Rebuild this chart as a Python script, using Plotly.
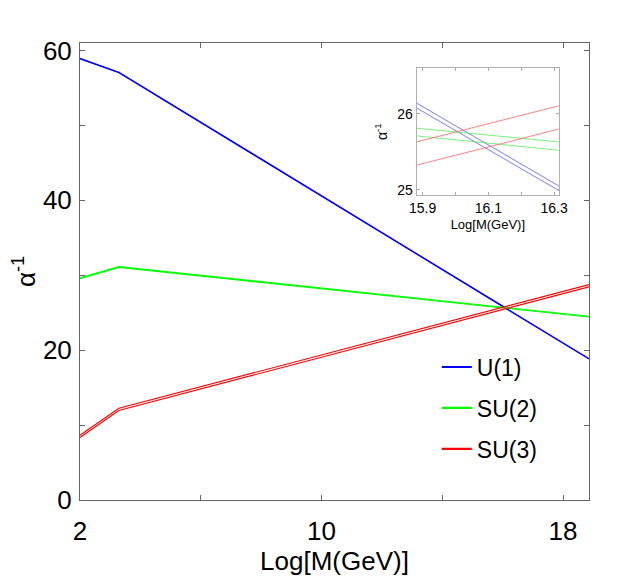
import plotly.graph_objects as go

# main curves: two edges of each band
m_x = [2, 3.29, 18.86]
u1_hi = [58.95, 57.10, 18.87]
u1_lo = [58.88, 57.03, 18.80]
su2_hi = [29.65, 31.15, 24.52]
su2_lo = [29.55, 31.05, 24.42]
su3_hi = [8.65, 12.25, 28.75]
su3_lo = [8.35, 11.95, 28.45]

# inset (zoom on the unification region)
in_x = [15.882, 16.315]
in_u1_hi = [26.14, 25.05]
in_u1_lo = [26.075, 24.99]
in_su2_hi = [25.81, 25.63]
in_su2_lo = [25.71, 25.52]
in_su3_hi = [25.63, 26.105]
in_su3_lo = [25.325, 25.80]

x_ticks = [2, 6, 10, 14, 18]
x_labels = ['2', '', '10', '', '18']
y_ticks = [0, 10, 20, 30, 40, 50, 60]
y_labels = ['0', '', '20', '', '40', '', '60']
in_x_ticks = [15.9, 16.0, 16.1, 16.2, 16.3]
in_x_labels = ['15.9', '', '16.1', '', '16.3']
in_y_ticks = [25, 26]

names = ['U(1)', 'SU(2)', 'SU(3)']
colors = ['#0000ff', '#00ff00', '#ff0000']
light = ['rgba(80,80,255,0.75)', 'rgba(80,235,80,0.75)', 'rgba(255,90,90,0.75)']

fig = go.Figure()

main = [(u1_hi, u1_lo), (su2_hi, su2_lo), (su3_hi, su3_lo)]
for (hi, lo), c in zip(main, colors):
    for y in (hi, lo):
        fig.add_trace(go.Scatter(x=m_x, y=y, mode='lines', line=dict(color=c, width=1.1),
                                 showlegend=False, hoverinfo='skip'))

inset = [(in_u1_hi, in_u1_lo), (in_su2_hi, in_su2_lo), (in_su3_hi, in_su3_lo)]
for (hi, lo), c in zip(inset, light):
    for y in (hi, lo):
        fig.add_trace(go.Scatter(x=in_x, y=y, mode='lines', line=dict(color=c, width=1),
                                 xaxis='x2', yaxis='y2', showlegend=False, hoverinfo='skip'))

# legend entries only
for n, c in zip(names, colors):
    fig.add_trace(go.Scatter(x=[None], y=[None], mode='lines', name=n, legendgroup=n,
                             line=dict(color=c, width=2.2)))

axis_font = dict(family='Arial, Liberation Sans', size=26, color='black')
small_font = dict(family='Arial, Liberation Sans', size=14, color='black')

# the page body adds 8px, so the figure is a little smaller than the window
fig.update_layout(
    width=622, height=568,
    margin=dict(l=72, r=41, t=35, b=76, autoexpand=False),
    paper_bgcolor='white', plot_bgcolor='white',
    font=dict(family='Arial, Liberation Sans', color='black'),
    xaxis=dict(range=[2, 18.86], tickvals=x_ticks, ticktext=x_labels, ticks='inside', ticklen=5,
               tickcolor='#666', showline=True, linecolor='#666', linewidth=1, mirror='ticks',
               showgrid=False, zeroline=False, tickfont=axis_font, ticklabelstandoff=8,
               automargin=False,
               title=dict(text='Log[M(GeV)]', font=axis_font, standoff=14)),
    yaxis=dict(range=[0, 61], tickvals=y_ticks, ticktext=y_labels, ticks='inside', ticklen=5,
               tickcolor='#666', showline=True, linecolor='#666', linewidth=1, mirror='ticks',
               showgrid=False, zeroline=False, tickfont=axis_font, ticklabelstandoff=2,
               automargin=False,
               title=dict(text='α<sup>-1</sup>', font=axis_font, standoff=24)),
    xaxis2=dict(domain=[0.6615, 0.941], anchor='y2', range=[15.882, 16.315],
                tickvals=in_x_ticks, ticktext=in_x_labels, ticks='inside', ticklen=3,
                tickcolor='#aaa', showline=True, linecolor='#b0b0b0', mirror='ticks',
                showgrid=False, zeroline=False, tickfont=small_font, automargin=False,
                title=dict(text='Log[M(GeV)]', font=dict(family='Arial, Liberation Sans', size=13),
                           standoff=4)),
    yaxis2=dict(domain=[0.667, 0.945], anchor='x2', range=[24.93, 26.6],
                tickvals=in_y_ticks, ticks='inside', ticklen=3,
                tickcolor='#aaa', showline=True, linecolor='#b0b0b0', mirror='ticks',
                showgrid=False, zeroline=False, tickfont=small_font, automargin=False,
                title=dict(text='α<sup>-1</sup>', font=dict(family='Arial, Liberation Sans', size=14),
                           standoff=6)),
    showlegend=True,
    legend=dict(x=0.701, y=0.338, xanchor='left', yanchor='top', bgcolor='rgba(0,0,0,0)',
                font=dict(family='Arial, Liberation Sans', size=23, color='black'),
                traceorder='grouped', tracegroupgap=8, itemwidth=30),
)

fig.write_html("out.html")
